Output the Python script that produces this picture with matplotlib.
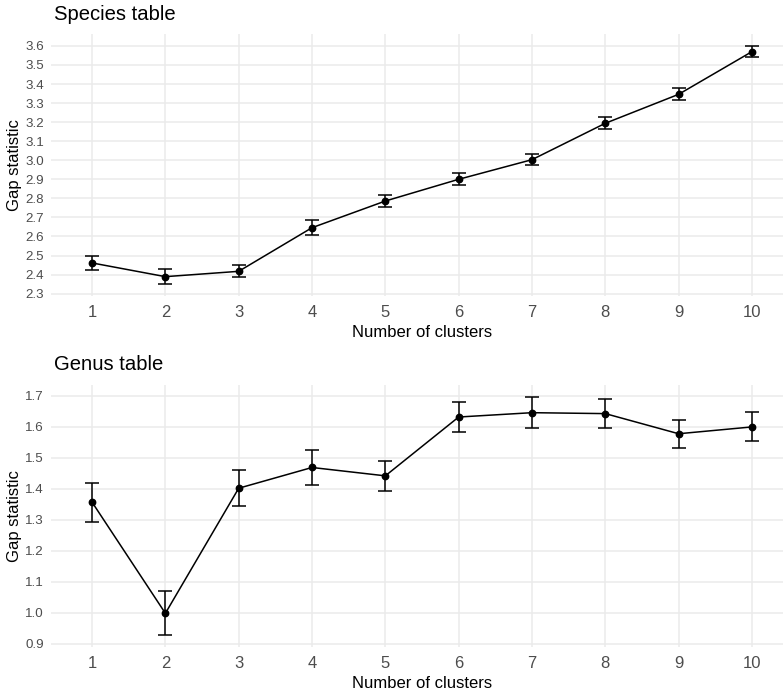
import matplotlib
matplotlib.use("Agg")
import matplotlib.pyplot as plt
import numpy as np

plt.rcParams['font.family'] = ['Liberation Sans', 'DejaVu Sans']

# Gap statistic per number of clusters, with standard errors
clusters = [1, 2, 3, 4, 5, 6, 7, 8, 9, 10]

species_gap = [2.461, 2.389, 2.417, 2.646, 2.786, 2.900, 3.003, 3.194, 3.346, 3.570]
species_se = [0.036, 0.041, 0.032, 0.038, 0.033, 0.032, 0.030, 0.032, 0.031, 0.030]

genus_gap = [1.357, 0.998, 1.402, 1.469, 1.442, 1.632, 1.646, 1.643, 1.578, 1.600]
genus_se = [0.063, 0.071, 0.058, 0.058, 0.048, 0.048, 0.050, 0.046, 0.045, 0.047]

species_ticks = [2.3, 2.4, 2.5, 2.6, 2.7, 2.8, 2.9, 3.0, 3.1, 3.2, 3.3, 3.4, 3.5, 3.6]
genus_ticks = [0.9, 1.0, 1.1, 1.2, 1.3, 1.4, 1.5, 1.6, 1.7]

W, H = 783, 694
fig = plt.figure(figsize=(W / 100, H / 100), dpi=100)
fig.patch.set_facecolor('white')

GRID = '#EBEBEB'
TICK = '#4D4D4D'


def panel(left_px, top_px, right_px, bottom_px):
    return fig.add_axes([left_px / W, 1 - bottom_px / H,
                         (right_px - left_px) / W, (bottom_px - top_px) / H])


def draw(ax, gap, se, ticks, title, title_y):
    gap = np.array(gap)
    se = np.array(se)
    ax.errorbar(clusters, gap, yerr=se, color='black', linewidth=1.1,
                elinewidth=1.1, capsize=4.8, capthick=1.1,
                marker='o', markersize=4.6, zorder=3)
    lo = (gap - se).min()
    hi = (gap + se).max()
    pad = (hi - lo) * 0.05
    ax.set_ylim(lo - pad, hi + pad)
    ax.set_xlim(0.44, 10.56)
    ax.set_xticks(clusters)
    ax.set_yticks(ticks)
    ax.set_yticklabels([f"{t:.1f}" for t in ticks])
    ax.grid(True, color=GRID, linewidth=1.1)
    ax.set_axisbelow(True)
    for s in ax.spines.values():
        s.set_visible(False)
    ax.tick_params(axis='both', length=0, colors=TICK)
    ax.tick_params(axis='x', labelsize=12, pad=6)
    ax.tick_params(axis='y', labelsize=9.6, pad=5)
    ax.set_xlabel("Number of clusters", fontsize=12, labelpad=4)

    # y-axis title and panel title placed in figure pixels
    pos = ax.get_position()
    fig.text(15 / W, pos.y0 + pos.height / 2, "Gap statistic", fontsize=12,
             rotation=90, ha='center', va='center', color='black')
    fig.text(54 / W, 1 - title_y / H, title, fontsize=14.6, ha='left',
             va='center', color='black')


ax1 = panel(51, 34, 793, 296.4)
draw(ax1, species_gap, species_se, species_ticks, "Species table", 14)

ax2 = panel(51, 385.3, 793, 647.2)
draw(ax2, genus_gap, genus_se, genus_ticks, "Genus table", 365)

fig.savefig("out.png", dpi=100, facecolor='white')
